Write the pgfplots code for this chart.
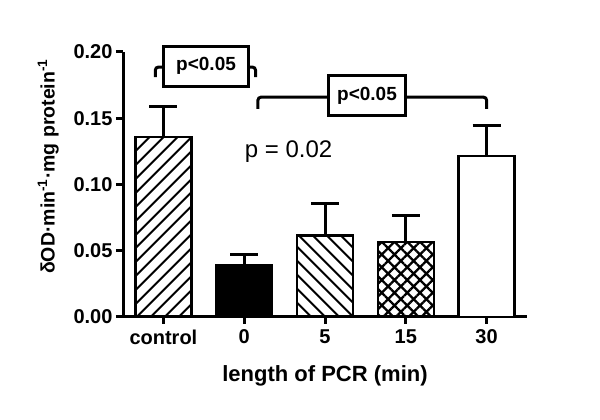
\documentclass[border=0pt]{standalone}
\usepackage{fontspec}
\setmainfont{Liberation Sans}
\usepackage{pgfplots}
\pgfplotsset{compat=1.18}
\usetikzlibrary{patterns.meta}

\begin{document}
\begin{tikzpicture}[x=1pt,y=1pt]
\path[use as bounding box] (0,0) rectangle (600,420);
\begin{axis}[
    at={(123pt,103pt)}, anchor=south west,
    scale only axis, width=404pt, height=265pt,
    xmin=-0.5, xmax=4.5, ymin=0, ymax=0.2,
    axis x line*=bottom, axis y line*=left,
    axis line style={line width=3pt, -},
    tick align=outside, major tick length=7pt,
    tick style={line width=3pt, black},
    xtick={0,1,2,3,4}, xticklabels={control,0,5,15,30},
    ytick={0,0.05,0.1,0.15,0.2},
    /pgf/number format/assume math mode=true,
    yticklabel style={/pgf/number format/.cd, fixed, fixed zerofill, precision=2},
    ticklabel style={font=\bfseries\fontsize{20}{23}\selectfont},
    xticklabel style={yshift=-2pt},
    xlabel={length of PCR (min)},
    ylabel={δOD·min\textsuperscript{-1}·mg protein\textsuperscript{-1}},
    xlabel style={font=\bfseries\fontsize{22}{26}\selectfont, yshift=-14pt},
    ylabel style={font=\bfseries\fontsize{19.5}{22}\selectfont, yshift=8pt, xshift=18pt},
    clip=false,
    every axis plot/.append style={ybar, bar width=56pt, bar shift=0pt, draw=black, line width=2.5pt,
      error bars/y dir=plus, error bars/y explicit,
      error bars/error bar style={line width=3pt, black},
      error bars/error mark options={rotate=90, mark size=14pt, line width=3pt, black}},
]
% control
\addplot[pattern={Lines[angle=45,distance=10.5pt,line width=2.3pt]}]
  coordinates {(0,0.136) +- (0,0.023)};
% 0 min
\addplot[fill=black] coordinates {(1,0.039) +- (0,0.008)};
% 5 min
\addplot[pattern={Lines[angle=-45,distance=10.5pt,line width=2.3pt]}]
  coordinates {(2,0.0616) +- (0,0.024)};
% 15 min
\addplot[pattern={Hatch[angle=45,distance=9pt,line width=2.3pt]}]
  coordinates {(3,0.0566) +- (0,0.020)};
% 30 min
\addplot[fill=white] coordinates {(4,0.1214) +- (0,0.0233)};

% brackets
\draw[line width=3pt, rounded corners=3pt] (axis cs:-0.1,0.181) -- (axis cs:-0.1,0.1886) -- (axis cs:1.14,0.1886) -- (axis cs:1.14,0.181);
\draw[line width=3pt, fill=white] (axis cs:0,0.174) rectangle (axis cs:1.056,0.2045);
\node[font=\bfseries\fontsize{19}{22}\selectfont] at (axis cs:0.528,0.1893) {p<0.05};

\draw[line width=3pt, rounded corners=3pt] (axis cs:1.17,0.157) -- (axis cs:1.17,0.1659) -- (axis cs:4.0,0.1659) -- (axis cs:4.0,0.157);
\draw[line width=3pt, fill=white] (axis cs:2.04,0.152) rectangle (axis cs:3.0,0.182);
\node[font=\bfseries\fontsize{19}{22}\selectfont] at (axis cs:2.52,0.167) {p<0.05};

\node[font=\fontsize{24}{28}\selectfont] at (axis cs:1.55,0.125) {p = 0.02};
\end{axis}
\end{tikzpicture}
\end{document}
